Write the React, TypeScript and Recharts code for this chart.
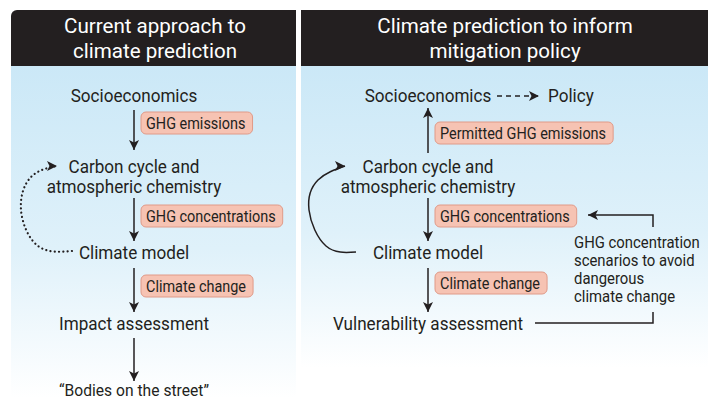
import { ScatterChart, Scatter, XAxis, YAxis, ReferenceArea } from 'recharts'

// panel frames (diagram units = pixels of the 708x400 frame)
const panels = [
  { x1: 11, x2: 296, y1: 66, y2: 398 },
  { x1: 301, x2: 708, y1: 66, y2: 368 },
]
const headers = [
  { x1: 11, x2: 296, y1: 10, y2: 66 },
  { x1: 301, x2: 708, y1: 10, y2: 66 },
]

const headerLines = [
  { x: 155, y: 33, label: 'Current approach to' },
  { x: 155, y: 58, label: 'climate prediction' },
  { x: 505, y: 33, label: 'Climate prediction to inform' },
  { x: 505, y: 58, label: 'mitigation policy' },
]

const nodes = [
  { x: 134, y: 102, label: 'Socioeconomics' },
  { x: 134, y: 173, label: 'Carbon cycle and' },
  { x: 134, y: 193, label: 'atmospheric chemistry' },
  { x: 134, y: 259, label: 'Climate model' },
  { x: 134, y: 330, label: 'Impact assessment' },
  { x: 428, y: 102, label: 'Socioeconomics' },
  { x: 428, y: 173, label: 'Carbon cycle and' },
  { x: 428, y: 193, label: 'atmospheric chemistry' },
  { x: 428, y: 259, label: 'Climate model' },
  { x: 428, y: 330, label: 'Vulnerability assessment' },
]

const sideNodes = [{ x: 548, y: 102, label: 'Policy' }]

const quote = [{ x: 134, y: 396, label: '\u201cBodies on the street\u201d' }]

const noteLines = [
  { x: 574, y: 248, label: 'GHG concentration' },
  { x: 574, y: 266, label: 'scenarios to avoid' },
  { x: 574, y: 284, label: 'dangerous' },
  { x: 574, y: 302, label: 'climate change' },
]

const badges = [
  { x: 141, y: 123, label: 'GHG emissions' },
  { x: 141, y: 216, label: 'GHG concentrations' },
  { x: 141, y: 286, label: 'Climate change' },
  { x: 435, y: 133, label: 'Permitted GHG emissions' },
  { x: 435, y: 216, label: 'GHG concentrations' },
  { x: 435, y: 283, label: 'Climate change' },
]

// arrows: list of points, head drawn at the point that has a direction
const arrows = [
  [{ x: 134, y: 110 }, { x: 134, y: 150, head: 'down' }],
  [{ x: 134, y: 198 }, { x: 134, y: 241, head: 'down' }],
  [{ x: 134, y: 268 }, { x: 134, y: 312, head: 'down' }],
  [{ x: 134, y: 338 }, { x: 134, y: 381, head: 'down' }],
  [{ x: 428, y: 153 }, { x: 428, y: 108, head: 'up' }],
  [{ x: 428, y: 198 }, { x: 428, y: 241, head: 'down' }],
  [{ x: 428, y: 268 }, { x: 428, y: 312, head: 'down' }],
  [{ x: 653, y: 227 }, { x: 653, y: 215 }, { x: 588, y: 215, head: 'left' }],
  [{ x: 535, y: 323 }, { x: 653, y: 323 }, { x: 653, y: 312 }],
]
const dashedArrow = [{ x: 497, y: 96 }, { x: 539, y: 96, head: 'right' }]
const dottedLoop = [
  { x: 72, y: 251 },
  { x: 38, y: 246 },
  { x: 21, y: 210 },
  { x: 31, y: 177 },
  { x: 57, y: 166, head: 'right' },
]
const solidLoop = [
  { x: 356, y: 252 },
  { x: 326, y: 246 },
  { x: 309, y: 210 },
  { x: 318, y: 180 },
  { x: 345, y: 166, head: 'right' },
]

const INK = '#231f20'
const FONT = 'Roboto, "Open Sans", sans-serif'

let ctx: CanvasRenderingContext2D | null = null
function measure(s: string, size: number) {
  if (!ctx) ctx = document.createElement('canvas').getContext('2d')
  if (!ctx) return s.length * size * 0.5
  ctx.font = `${size}px Roboto`
  return ctx.measureText(s).width
}

function makeText(size: number, sx: number, fill: string, anchor: 'middle' | 'start') {
  return (props: any) => {
    const { cx, cy, payload } = props
    return (
      <g transform={`translate(${cx},${cy}) scale(${sx},1)`}>
        <text x={0} y={0} textAnchor={anchor} fontFamily={FONT} fontSize={size} fill={fill}>
          {payload.label}
        </text>
      </g>
    )
  }
}

const HeaderText = makeText(21, 0.98, '#ffffff', 'middle')
const NodeText = makeText(19, 0.9, INK, 'middle')
const SideText = makeText(19, 0.9, INK, 'start')
const QuoteText = makeText(17, 0.92, INK, 'middle')
const NoteText = makeText(16, 0.93, INK, 'start')

const BADGE_SIZE = 17
const BADGE_SX = 0.85
function BadgeShape(props: any) {
  const { cx, cy, payload } = props
  const w = measure(payload.label, BADGE_SIZE) * BADGE_SX + 12
  return (
    <g>
      <rect x={cx} y={cy - 11} width={w} height={22} rx={5} fill="#f6c3b3" stroke="#e09a88" strokeWidth={1} />
      <g transform={`translate(${cx + 5},${cy + 6}) scale(${BADGE_SX},1)`}>
        <text x={0} y={0} fontFamily={FONT} fontSize={BADGE_SIZE} fill={INK}>
          {payload.label}
        </text>
      </g>
    </g>
  )
}

const ANGLE: Record<string, number> = { right: 0, down: 90, left: 180, up: 270 }
function HeadShape(props: any) {
  const { cx, cy, payload } = props
  if (!payload.head) return <g />
  return (
    <path
      d="M0,0 L-10,-5 L-7.5,0 L-10,5 Z"
      fill={INK}
      transform={`translate(${cx},${cy}) rotate(${ANGLE[payload.head]})`}
    />
  )
}

export default function App() {
  return (
    <div style={{ position: 'absolute', left: 0, top: 0, width: 708, height: 400, background: '#fff' }}>
      <ScatterChart width={708} height={400} margin={{ top: 0, right: 0, bottom: 0, left: 0 }}>
        <defs>
          <linearGradient id="panelGrad" x1="0" y1="0" x2="0" y2="1">
            <stop offset="0%" stopColor="#cbe8f7" />
            <stop offset="55%" stopColor="#dff1fa" />
            <stop offset="100%" stopColor="#ffffff" />
          </linearGradient>
        </defs>
        <XAxis type="number" dataKey="x" domain={[0, 708]} allowDataOverflow hide />
        <YAxis type="number" dataKey="y" domain={[0, 400]} allowDataOverflow reversed hide />
        {panels.map((p, i) => (
          <ReferenceArea key={`p${i}`} {...p} fill="url(#panelGrad)" fillOpacity={1} stroke="none" ifOverflow="visible" />
        ))}
        {headers.map((h, i) => (
          <ReferenceArea
            key={`h${i}`}
            {...h}
            fill="#231f20"
            fillOpacity={1}
            stroke="none"
            ifOverflow="visible"
            radius={i === 0 ? [6, 0, 0, 0] : 0}
          />
        ))}
        <Scatter data={headerLines} shape={HeaderText} isAnimationActive={false} />
        {arrows.map((a, i) => (
          <Scatter
            key={`a${i}`}
            data={a}
            line={{ stroke: INK, strokeWidth: 1.5 }}
            shape={HeadShape}
            isAnimationActive={false}
          />
        ))}
        <Scatter
          data={dashedArrow}
          line={{ stroke: INK, strokeWidth: 1.5, strokeDasharray: '5 4' }}
          shape={HeadShape}
          isAnimationActive={false}
        />
        <Scatter
          data={dottedLoop}
          line={{ stroke: INK, strokeWidth: 2.2, strokeDasharray: '0.1 4.2', strokeLinecap: 'round' }}
          lineJointType="natural"
          shape={HeadShape}
          isAnimationActive={false}
        />
        <Scatter
          data={solidLoop}
          line={{ stroke: INK, strokeWidth: 1.5 }}
          lineJointType="natural"
          shape={HeadShape}
          isAnimationActive={false}
        />
        <Scatter data={badges} shape={BadgeShape} isAnimationActive={false} />
        <Scatter data={nodes} shape={NodeText} isAnimationActive={false} />
        <Scatter data={sideNodes} shape={SideText} isAnimationActive={false} />
        <Scatter data={quote} shape={QuoteText} isAnimationActive={false} />
        <Scatter data={noteLines} shape={NoteText} isAnimationActive={false} />
      </ScatterChart>
    </div>
  )
}
